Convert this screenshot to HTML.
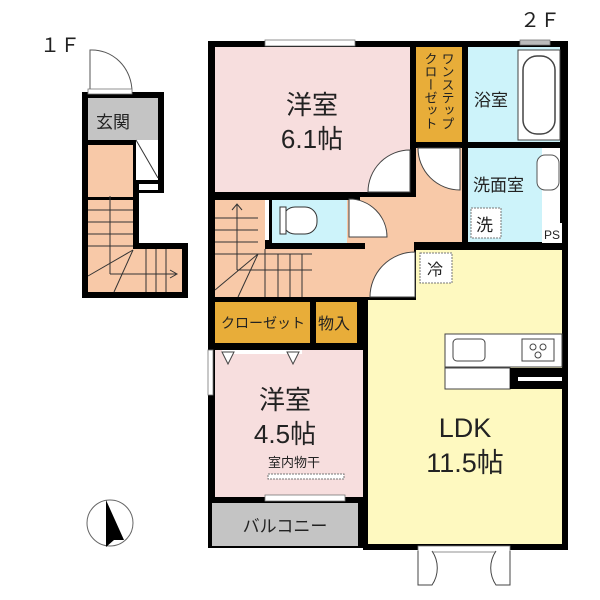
<!DOCTYPE html>
<html><head><meta charset="utf-8"><style>html,body{margin:0;padding:0;background:#fff}svg{display:block}text{font-family:"Liberation Sans","Noto Sans CJK JP",sans-serif;fill:#222}</style></head>
<body>
<svg width="600" height="600" viewBox="0 0 600 600" xmlns="http://www.w3.org/2000/svg">
<rect width="600" height="600" fill="#fff"/>
<text x="40" y="52" font-size="20">１Ｆ</text>
<text x="520" y="27" font-size="20">２Ｆ</text>

<!-- 1F -->
<path d="M82,92 H164 V193 H139 V243 H188 V298 H82 Z" fill="#000"/>
<rect x="88" y="98" width="70" height="42" fill="#c4c4c4"/>
<text x="96" y="128" font-size="17">玄関</text>
<rect x="136" y="140" width="22" height="40" fill="#fff"/>
<line x1="136" y1="140" x2="158" y2="178" stroke="#333"/>
<rect x="139" y="184" width="19" height="6" fill="#fff"/>
<rect x="88" y="145" width="45" height="52" fill="#f8c9a8"/>
<path d="M88,200 H133 V249 H182 V292 H88 Z" fill="#f8c9a8"/>
<g stroke="#333" stroke-width="1" fill="none">
<line x1="88" y1="210" x2="133" y2="210"/><line x1="88" y1="222" x2="133" y2="222"/><line x1="88" y1="234" x2="133" y2="234"/><line x1="88" y1="246" x2="133" y2="246"/>
<line x1="110" y1="196" x2="110" y2="274"/><line x1="110" y1="274" x2="176" y2="274"/>
<path d="M170,270 L177,274 L170,278"/>
<line x1="88" y1="276" x2="133" y2="250"/><line x1="114" y1="292" x2="133" y2="250"/>
<line x1="146" y1="249" x2="146" y2="292"/><line x1="156" y1="249" x2="156" y2="292"/><line x1="166" y1="249" x2="166" y2="292"/>
<path d="M90,92 V50 A40,42 0 0 1 132,92" stroke="#555"/>
</g>
<rect x="88" y="89" width="44" height="5" fill="#fff" stroke="#777" stroke-width="0.8"/>

<!-- 2F outer black -->
<path d="M208,41 H568 V550 H363 V548 H208 Z" fill="#000"/>
<rect x="215" y="47" width="195" height="145" fill="#f7dede"/>
<text x="312" y="114" font-size="26" text-anchor="middle">洋室</text>
<text x="312" y="148" font-size="26" text-anchor="middle">6.1帖</text>
<rect x="416" y="47" width="46" height="95" fill="#e8ad39"/>
<text font-size="13" writing-mode="tb" x="447" y="52">ワンステップ</text>
<text font-size="13" writing-mode="tb" x="430" y="52">クローゼット</text>
<rect x="468" y="47" width="92" height="95" fill="#cdf3fa"/>
<rect x="518" y="50" width="42" height="90" fill="#fff" stroke="#444"/>
<rect x="523" y="56" width="32" height="78" rx="14" fill="#fff" stroke="#444" stroke-width="1.5"/>
<text x="474" y="106" font-size="17">浴室</text>
<rect x="468" y="148" width="74" height="94" fill="#cdf3fa"/>
<rect x="542" y="148" width="18" height="75" fill="#fff"/>
<rect x="537" y="155" width="22" height="35" rx="8" fill="#fff" stroke="#555"/>
<rect x="542" y="223" width="20" height="20" fill="#fff"/>
<text x="544" y="239" font-size="12">PS</text>
<text x="473" y="191" font-size="17">洗面室</text>
<rect x="471" y="208" width="30" height="30" fill="#fff" stroke="#777" stroke-dasharray="2,1"/>
<text x="476" y="231" font-size="17">洗</text>
<!-- hallway -->
<path d="M416,148 H462 V242 H414 V297 H315 V200 H360 V197 H416 Z" fill="#f8c9a8"/>
<rect x="272" y="200" width="75" height="43" fill="#cdf3fa"/>
<rect x="283" y="207" width="34" height="27" rx="12" fill="#fff" stroke="#333"/>
<rect x="280" y="207" width="6" height="27" fill="#fff" stroke="#333"/>
<!-- stairs 2F -->
<rect x="215" y="200" width="50" height="97" fill="#f8c9a8"/>
<rect x="265" y="248" width="50" height="49" fill="#f8c9a8"/>
<rect x="265" y="243" width="100" height="6" fill="#000"/>
<g stroke="#333" stroke-width="1" fill="none">
<line x1="237" y1="205" x2="237" y2="270"/><path d="M232,210 L237,204 L242,210"/>
<line x1="237" y1="270" x2="312" y2="270"/>
<line x1="215" y1="218" x2="258" y2="218"/><line x1="215" y1="230" x2="258" y2="230"/><line x1="215" y1="242" x2="258" y2="242"/><line x1="215" y1="254" x2="258" y2="254"/>
<line x1="215" y1="290" x2="258" y2="254"/><line x1="238" y1="297" x2="258" y2="254"/>
<line x1="265" y1="249" x2="265" y2="297"/><line x1="278" y1="254" x2="278" y2="297"/><line x1="290" y1="254" x2="290" y2="297"/><line x1="302" y1="254" x2="302" y2="297"/>
<line x1="258" y1="254" x2="312" y2="254"/>
</g>
<rect x="265" y="200" width="4" height="40" fill="#fff"/>
<!-- doors -->
<g stroke="#444" fill="#fff" stroke-width="1">
<path d="M410,192 L410,150 A42,42 0 0 0 368,192 Z"/>
<path d="M418,148 A42,42 0 0 0 460,190 L460,148 Z"/>
<path d="M349,237 V199 A38,38 0 0 1 387,237 Z"/>
<path d="M415,252 A45,45 0 0 0 370,297 L415,297 Z"/>
</g>
<!-- LDK -->
<path d="M416,250 H562 V544 H368 V300 H416 Z" fill="#fef9c0"/>
<rect x="420" y="253" width="32" height="30" fill="#fff" stroke="#777" stroke-dasharray="2,1"/>
<text x="427" y="275" font-size="16">冷</text>
<rect x="445" y="334" width="117" height="33" fill="#fff" stroke="#444"/>
<rect x="453" y="339" width="32" height="22" rx="4" fill="#fff" stroke="#444"/>
<rect x="522" y="339" width="32" height="22" fill="#fff" stroke="#444"/>
<circle cx="533" cy="347" r="3" fill="none" stroke="#444"/><circle cx="543" cy="347" r="3" fill="none" stroke="#444"/><circle cx="538" cy="355" r="3" fill="none" stroke="#444"/>
<rect x="445" y="368" width="65" height="21" fill="#fff" stroke="#444"/>
<rect x="510" y="368" width="52" height="21" fill="#000"/>
<rect x="518" y="377" width="44" height="4" fill="#fff"/>
<text x="465" y="437" font-size="27" text-anchor="middle">LDK</text>
<text x="465" y="472" font-size="27" text-anchor="middle">11.5帖</text>
<!-- closets -->
<rect x="215" y="302" width="95" height="41" fill="#e8ad39"/>
<text x="221" y="328" font-size="14">クローゼット</text>
<rect x="316" y="302" width="41" height="41" fill="#e8ad39"/>
<text x="318" y="329" font-size="16">物入</text>
<!-- 4.5 -->
<rect x="215" y="350" width="148" height="147" fill="#f7dede"/>
<rect x="222" y="350" width="80" height="4" fill="#fff"/>
<path d="M222,352 L234,352 L228,364 Z M287,352 L299,352 L293,364 Z" fill="#fff" stroke="#444"/>
<text x="285" y="409" font-size="26" text-anchor="middle">洋室</text>
<text x="285" y="443" font-size="26" text-anchor="middle">4.5帖</text>
<text x="268" y="467" font-size="13">室内物干</text>
<rect x="268" y="474" width="76" height="5" fill="#fff" stroke="#777" stroke-dasharray="2,1"/>
<rect x="212" y="503" width="146" height="43" fill="#c4c4c4"/>
<text x="285" y="532" font-size="17" text-anchor="middle">バルコニー</text>
<!-- windows -->
<g fill="#fff" stroke="#777" stroke-width="0.8">
<rect x="265" y="40" width="90" height="6"/>
<rect x="520" y="40" width="30" height="5" fill="#bbb"/>
<rect x="265" y="495" width="80" height="6"/>
<rect x="208" y="350" width="5" height="45"/>
<rect x="418" y="546" width="92" height="6"/>
</g>
<g stroke="#444" fill="#fff">
<path d="M418,551 V585 H432 A30,30 0 0 0 432,551"/>
<path d="M510,551 V585 H496 A30,30 0 0 1 496,551"/>
</g>
<!-- compass -->
<circle cx="110" cy="523" r="23" fill="none" stroke="#666" stroke-width="1"/>
<path d="M106,500 L124,540 L114,540 L106,547 Z" fill="#000"/>
</svg>
</body></html>
